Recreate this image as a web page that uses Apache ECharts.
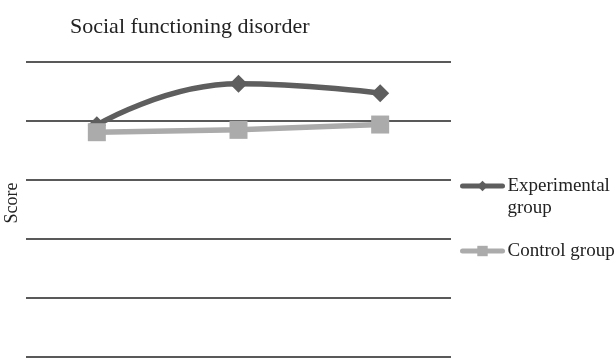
<!DOCTYPE html>
<html>
<head>
<meta charset="utf-8">
<script src="https://cdn.jsdelivr.net/npm/echarts@6/dist/echarts.min.js"></script>
<style>html,body{margin:0;padding:0;background:#fff}#c{width:614px;height:359px}</style>
</head>
<body>
<div id="c"></div>
<script>
var categories = ['T1', 'T2', 'T3'];
var experimental = [39.3, 46.3, 44.7];
var control = [38.1, 38.5, 39.4];
var seriesNames = ['Experimental group', 'Control group'];
var legendLabels = ['\nExperimental\ngroup', 'Control group'];

var chart = echarts.init(document.getElementById('c'));
var serif = 'Liberation Serif';
chart.setOption({
  animation: false,
  title: {
    text: 'Social functioning disorder',
    left: 65, top: 11,
    textStyle: { fontFamily: serif, fontSize: 22, fontWeight: 'normal', color: '#222' }
  },
  legend: {
    orient: 'vertical',
    left: 460, top: 153,
    padding: 0,
    itemGap: 21,
    itemWidth: 40, itemHeight: 13,
    data: seriesNames,
    formatter: function (name) { return legendLabels[seriesNames.indexOf(name)]; },
    lineStyle: { width: 5, cap: 'round' },
    textStyle: { fontFamily: serif, fontSize: 19, color: '#222', lineHeight: 22 }
  },
  grid: { left: 26, right: 163, top: 62, bottom: 2, outerBoundsMode: 'none', containLabel: false },
  xAxis: {
    type: 'category', data: categories,
    axisLine: { show: false }, axisTick: { show: false }, axisLabel: { show: false }
  },
  yAxis: {
    type: 'value', min: 0, max: 50, interval: 10,
    name: 'Score', nameLocation: 'middle', nameGap: 5, nameRotate: 90,
    nameTextStyle: { fontFamily: serif, fontSize: 18, color: '#222', padding: [0, 0, 0, 13] },
    axisLabel: { show: false }, axisLine: { show: false }, axisTick: { show: false },
    splitLine: { lineStyle: { color: '#222', width: 1.5 } }
  },
  series: [
    {
      name: seriesNames[0], type: 'line', data: experimental, smooth: 0.5,
      symbol: 'diamond', symbolSize: 18,
      lineStyle: { color: '#5e5e5e', width: 5.5 },
      itemStyle: { color: '#5e5e5e' }
    },
    {
      name: seriesNames[1], type: 'line', data: control, smooth: false,
      symbol: 'rect', symbolSize: 18,
      lineStyle: { color: '#ababab', width: 5.5 },
      itemStyle: { color: '#ababab' }
    }
  ]
});
</script>
</body>
</html>
